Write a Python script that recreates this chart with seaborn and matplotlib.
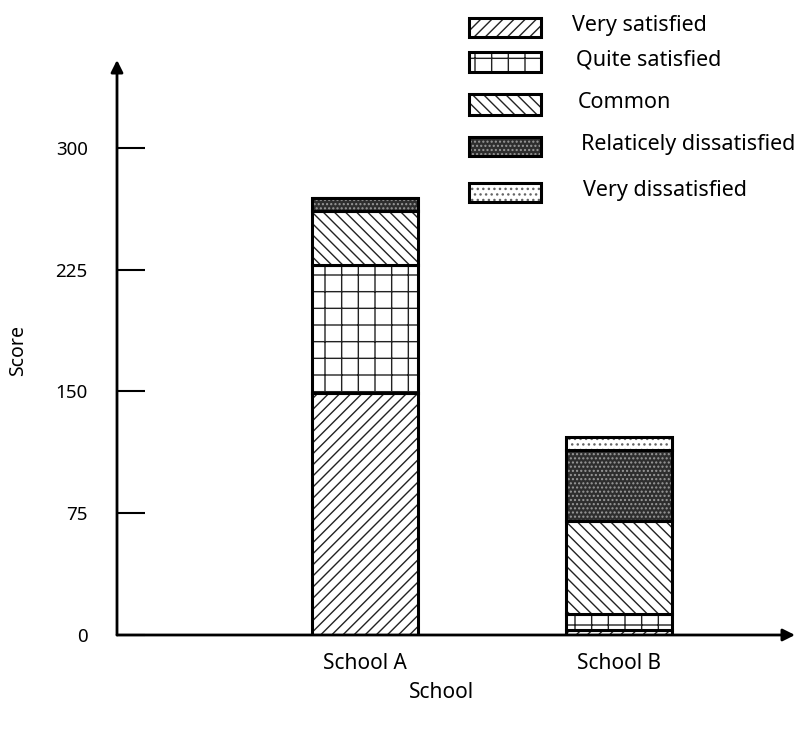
import numpy as np
import matplotlib
matplotlib.use("Agg")
import matplotlib.pyplot as plt
from matplotlib.patches import Rectangle
import seaborn as sns

# ---- data ----
schools = ["School A", "School B"]
categories = ["Very satisfied", "Quite satisfied", "Common",
              "Relaticely dissatisfied", "Very dissatisfied"]
very_satisfied = [149, 3]
quite_satisfied = [79, 10]
common = [33, 57]
relatively_dissatisfied = [8, 44]
very_dissatisfied = [0, 8]
yticks = [0, 75, 150, 225, 300]

series = [very_satisfied, quite_satisfied, common,
          relatively_dissatisfied, very_dissatisfied]

# fill colour, hatch, hatch colour
styles = [
    ("white", "///", "#222222"),
    ("white", "+", "#222222"),
    ("white", "\\\\\\", "#222222"),
    ("#2e2e2e", "....", "#9a9a9a"),
    ("white", "...", "#666666"),
]

sns.set_theme(style="white")
plt.rcParams["font.family"] = ["Noto Sans", "DejaVu Sans"]
plt.rcParams["hatch.linewidth"] = 1.0

W, H = 806, 729
fig = plt.figure(figsize=(W / 100, H / 100), dpi=100)
ax = fig.add_axes([117 / W, 1 - 635 / H, (795 - 117) / W, (635 - 60) / H])

bw = 0.417
bottom = np.zeros(len(schools))
for vals, (fc, hatch, hc) in zip(series, styles):
    sns.barplot(x=schools, y=vals, bottom=bottom, width=bw, color=fc,
                saturation=1, hatch=hatch, edgecolor=hc, linewidth=0,
                errorbar=None, ax=ax)
    sns.barplot(x=schools, y=vals, bottom=bottom, width=bw, color="black",
                fill=False, linewidth=2.2, errorbar=None, ax=ax)
    bottom = bottom + np.array(vals)

ax.set_xlim(-0.976, 1.693)
ax.set_ylim(0, 354)
for s in ax.spines.values():
    s.set_visible(False)

ax.set_yticks(yticks)
ax.set_yticklabels([str(v) for v in yticks])
ax.tick_params(axis="y", direction="in", length=20, width=1.5, pad=21,
               labelsize=13.5, colors="black", left=True)
ax.tick_params(axis="x", length=0, pad=13, labelsize=15, colors="black")

# arrow axes
ax.annotate("", xy=(0, 1), xytext=(0, 0), xycoords="axes fraction",
            arrowprops=dict(arrowstyle="-|>", lw=2, color="black",
                            mutation_scale=18, shrinkA=0, shrinkB=0))
ax.annotate("", xy=(1, 0), xytext=(0, 0), xycoords="axes fraction",
            arrowprops=dict(arrowstyle="-|>", lw=2, color="black",
                            mutation_scale=18, shrinkA=0, shrinkB=0))

ax.set_xlabel("School", fontsize=15, color="black")
ax.set_ylabel("Score", fontsize=14, color="black")
ax.xaxis.set_label_coords((442 - 117) / 678, -(692 - 635) / 575)
ax.xaxis.label.set_va("center")
ax.yaxis.set_label_coords((18 - 117) / 678, (635 - 350) / 575)
ax.yaxis.label.set_va("center")
ax.yaxis.label.set_ha("center")

# manual legend (figure pixel coordinates)
leg_boxes = [(18, 37), (52, 72), (94, 115), (137, 156), (183, 202)]
leg_text_x = [572, 576, 578, 581, 583]
for (y0, y1), tx, lab, (fc, hatch, hc) in zip(leg_boxes, leg_text_x,
                                              categories, styles):
    r = Rectangle((469 / W, 1 - y1 / H), (541 - 469) / W, (y1 - y0) / H,
                  transform=fig.transFigure, facecolor=fc, hatch=hatch,
                  edgecolor=hc, linewidth=0)
    fig.add_artist(r)
    r2 = Rectangle((469 / W, 1 - y1 / H), (541 - 469) / W, (y1 - y0) / H,
                   transform=fig.transFigure, facecolor="none",
                   edgecolor="black", linewidth=2.2)
    fig.add_artist(r2)
    fig.text(tx / W, 1 - ((y0 + y1) / 2 - 2) / H, lab, ha="left",
             va="center", fontsize=15.5, color="black")

fig.savefig("out.png", dpi=100)
